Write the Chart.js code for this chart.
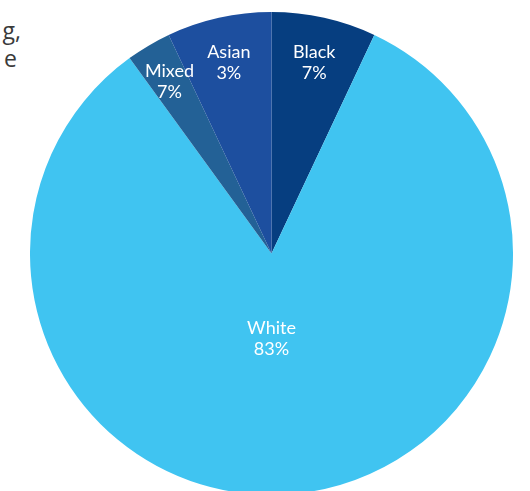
<!DOCTYPE html>
<html>
<head>
<meta charset="utf-8">
<script src="https://cdn.jsdelivr.net/npm/chart.js@4"></script>
<style>
  html, body { margin: 0; padding: 0; background: #fff; overflow: hidden; }
  body { width: 530px; height: 491px; position: relative; }
  .note {
    position: absolute;
    font-family: "Open Sans", sans-serif; font-size: 23px; line-height: 28px;
    color: #3a3a3a; white-space: nowrap; text-align: right;
  }
  #wrap { position: absolute; left: 30px; top: 12px; width: 483px; height: 483px; }
</style>
</head>
<body>
<div class="note" style="right:509px; top:16px;">g,</div>
<div class="note" style="right:513px; top:44px;">e</div>
<div id="wrap"><canvas id="pie"></canvas></div>
<script>
// slices, clockwise from 12 o'clock
const groups = ["Black", "White", "Mixed", "Asian"];
const shares = [7, 83, 3, 7];
// percentages as printed on the slices
const printedPct = ["7%", "83%", "7%", "3%"];
const colours = ["#063e80", "#40c4f1", "#236196", "#1d4f9f"];

// ---------- LABELS ----------
const sliceLabels = {
  id: "sliceLabels",
  afterDatasetsDraw(chart) {
    const ctx = chart.ctx;
    const arcs = chart.getDatasetMeta(0).data;
    ctx.save();
    ctx.fillStyle = "#ffffff";
    ctx.font = "18px Lato, sans-serif";
    ctx.textAlign = "center";
    ctx.textBaseline = "middle";
    arcs.forEach((arc, i) => {
      const p = arc.getProps(["x", "y", "startAngle", "endAngle", "outerRadius"], true);
      let x, y;
      if (shares[i] > 50) {
        x = p.x;
        y = p.y + p.outerRadius * 0.35;
      } else {
        const mid = (p.startAngle + p.endAngle) / 2;
        const r = p.outerRadius * (shares[i] < 5 ? 0.83 : 0.81);
        x = p.x + Math.cos(mid) * r;
        y = p.y + Math.sin(mid) * r;
      }
      ctx.fillText(groups[i], x, y - 10);
      ctx.fillText(printedPct[i], x, y + 11);
    });
    ctx.restore();
  }
};

new Chart(document.getElementById("pie"), {
  type: "pie",
  data: {
    labels: groups,
    datasets: [{
      data: shares,
      backgroundColor: colours,
      borderWidth: 0
    }]
  },
  options: {
    responsive: true,
    maintainAspectRatio: false,
    animation: false,
    layout: { padding: 0 },
    plugins: {
      legend: { display: false },
      tooltip: { enabled: false }
    }
  },
  plugins: [sliceLabels]
});
</script>
</body>
</html>
